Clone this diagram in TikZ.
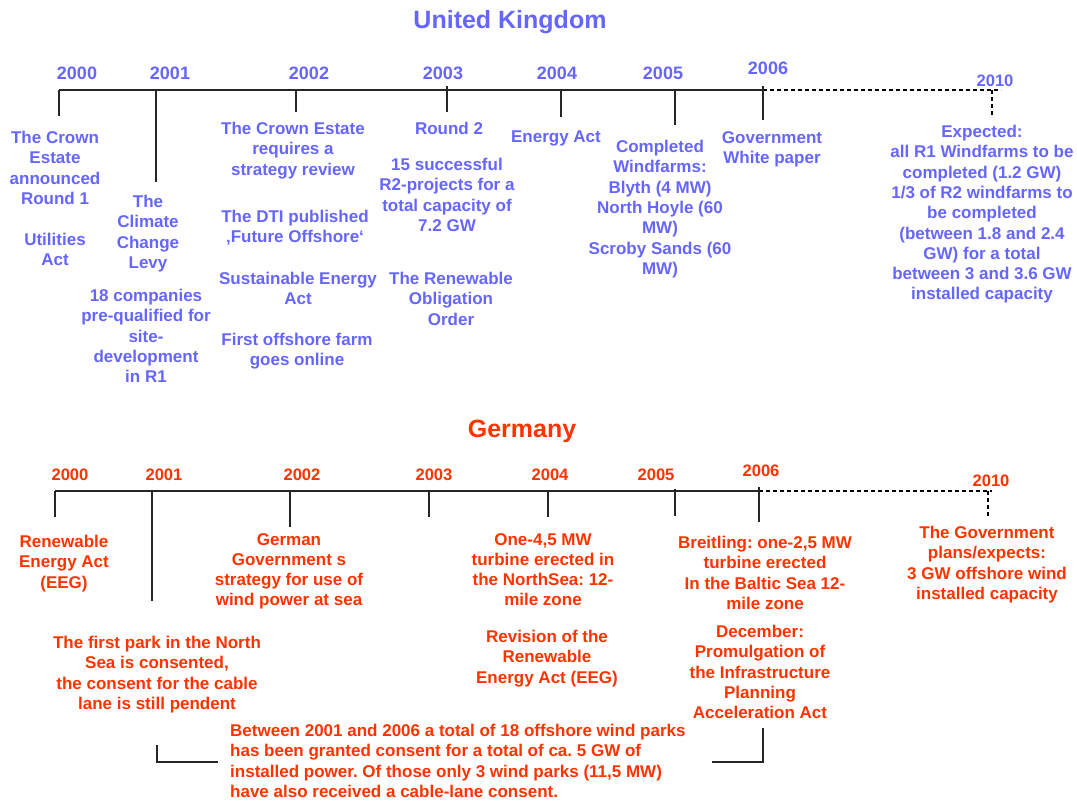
\documentclass[tikz,border=0pt]{standalone}
\usepackage{fontspec}
\setmainfont{Liberation Sans}
\definecolor{ukblue}{RGB}{102,102,255}
\definecolor{dered}{RGB}{255,51,0}
\tikzset{
  event/.style={font=\fontsize{17}{20.3}\selectfont\bfseries, align=center, inner sep=0pt, anchor=north},
  year/.style={font=\fontsize{18}{20}\selectfont\bfseries, inner sep=0pt, anchor=base},
  smallyear/.style={year, font=\fontsize{16.6}{20}\selectfont\bfseries},
  country/.style={font=\fontsize{25}{30}\selectfont\bfseries, inner sep=0pt, anchor=base},
  axis/.style={draw=black!85, line width=1.2pt},
  future/.style={draw=black, line width=1.6pt, dash pattern=on 4pt off 3pt},
}
\frenchspacing
\begin{document}
\begin{tikzpicture}[x=1pt,y=-1pt]
    \useasboundingbox (0,0) rectangle (1077,801);
    %% United Kingdom
    \node[country,text=ukblue] (uk) at (510,28) {United Kingdom};
    \coordinate (uk start) at (59,90);
    \coordinate (uk now) at (763,90);
    \coordinate (uk end) at (1001,90);
    \draw[axis] (uk start) -- (uk now);
    \draw[future] (uk now) -- (uk end);
    %% UK ticks
    \draw[axis] (uk start) -- ++(0,26);
    \draw[axis] (156,90) -- (156,182);
    \draw[axis] (296,90) -- (296,112);
    \draw[axis] (447,86) -- (447,112);
    \draw[axis] (561,90) -- (561,117);
    \draw[axis] (675,90) -- (675,125);
    \draw[axis] (763,86) -- (763,120);
    \draw[future] (992,90) -- (992,117);
    %% UK years
    \begin{scope}[every node/.append style={text=ukblue}]
        \node[year] (uk2000) at (77,79) {2000};
        \node[year] (uk2001) at (170,79) {2001};
        \node[year] (uk2002) at (309,79) {2002};
        \node[year] (uk2003) at (443,79) {2003};
        \node[year] (uk2004) at (557,79) {2004};
        \node[year] (uk2005) at (663,79) {2005};
        \node[year] (uk2006) at (768,74) {2006};
        \node[smallyear] (uk2010) at (995,86) {2010};
        %% UK events
        \node[event] (round1) at (55,131) {The Crown\\Estate\\announced\\Round 1};
        \node[event] (utilities) at (55,233) {Utilities\\Act};
        \node[event] (levy) at (148,195) {The\\Climate\\Change\\Levy};
        \node[event] (prequal) at (146,289) {18 companies\\pre-qualified for\\site-\\development\\in R1};
        \node[event] (review) at (293,122) {The Crown Estate\\requires a\\strategy review};
        \node[event] (dti) at (295,210) {The DTI published\\‚Future Offshore‘};
        \node[event] (seact) at (298,272) {Sustainable Energy\\Act};
        \node[event] (firstfarm) at (297,333) {First offshore farm\\goes online};
        \node[event] (round2) at (449,122) {Round 2};
        \node[event] (r2proj) at (447,158) {15 successful\\R2-projects for a\\total capacity of\\7.2 GW};
        \node[event] (roo) at (451,272) {The Renewable\\Obligation\\Order};
        \node[event] (eact) at (556,131) {Energy Act};
        \node[event] (completed) at (660,140) {Completed\\Windfarms:\\Blyth (4 MW)\\North Hoyle (60\\MW)\\Scroby Sands (60\\MW)};
        \node[event] (whitepaper) at (772,131) {Government\\White paper};
        \node[event] (expected) at (982,125) {Expected:\\all R1 Windfarms to be\\completed (1.2 GW)\\1/3 of R2 windfarms to\\be completed\\(between 1.8 and 2.4\\GW) for a total\\between 3 and 3.6 GW\\installed capacity};
    \end{scope}
    %% Germany
    \node[country,text=dered] (de) at (522,437) {Germany};
    \coordinate (de start) at (55,491);
    \coordinate (de now) at (759,491);
    \coordinate (de end) at (992,491);
    \draw[axis] (de start) -- (de now);
    \draw[future] (de now) -- (de end);
    %% German ticks
    \draw[axis] (de start) -- ++(0,26);
    \draw[axis] (152,491) -- (152,601);
    \draw[axis] (290,491) -- (290,527);
    \draw[axis] (429,491) -- (429,517);
    \draw[axis] (548,491) -- (548,517);
    \draw[axis] (675,489) -- (675,516);
    \draw[axis] (759,487) -- (759,522);
    \draw[future] (988,491) -- (988,517);
    %% German years
    \begin{scope}[every node/.append style={text=dered}]
        \node[smallyear] (de2000) at (70,480) {2000};
        \node[smallyear] (de2001) at (164,480) {2001};
        \node[smallyear] (de2002) at (302,480) {2002};
        \node[smallyear] (de2003) at (434,480) {2003};
        \node[smallyear] (de2004) at (550,480) {2004};
        \node[smallyear] (de2005) at (656,480) {2005};
        \node[smallyear] (de2006) at (761,476) {2006};
        \node[smallyear] (de2010) at (991,486) {2010};
        %% German events
        \node[event] (eeg) at (64,535) {Renewable\\Energy Act\\(EEG)};
        \node[event] (firstpark) at (157,636) {The first park in the North\\Sea is consented,\\the consent for the cable\\lane is still pendent};
        \node[event] (strategy) at (289,533) {German\\Government s\\strategy for use of\\wind power at sea};
        \node[event] (northsea) at (543,533) {One-4,5 MW\\turbine erected in\\the NorthSea: 12-\\mile zone};
        \node[event] (revision) at (547,630) {Revision of the\\Renewable\\Energy Act (EEG)};
        \node[event] (breitling) at (765,536) {Breitling: one-2,5 MW\\turbine erected\\In the Baltic Sea 12-\\mile zone};
        \node[event] (december) at (760,625) {December:\\Promulgation of\\the Infrastructure\\Planning\\Acceleration Act};
        \node[event] (plans) at (987,526) {The Government\\plans/expects:\\3 GW offshore wind\\installed capacity};
        \node[event,anchor=north west,align=left] (summary) at (230,724) {Between 2001 and 2006 a total of 18 offshore wind parks\\has been granted consent for a total of ca. 5 GW of\\installed power. Of those only 3 wind parks (11,5 MW)\\have also received a cable-lane consent.};
    \end{scope}
    %% bracket 2001--2006
    \coordinate (br left) at (157,745);
    \coordinate (br right) at (763,728);
    \draw[axis] (br left) |- (218,762);
    \draw[axis] (br right) |- (712,762);
\end{tikzpicture}
\end{document}
